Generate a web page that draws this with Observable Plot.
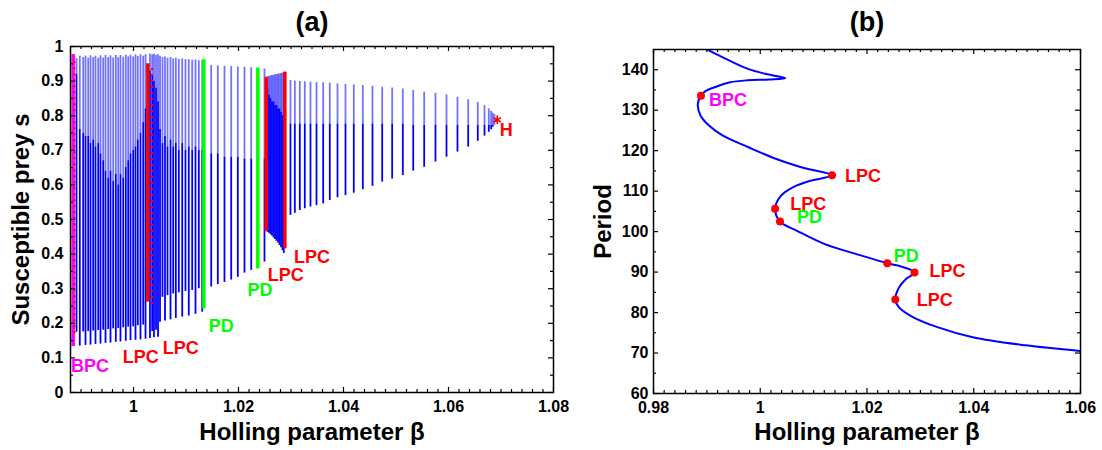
<!DOCTYPE html>
<html><head><meta charset="utf-8">
<script src="https://cdn.jsdelivr.net/npm/d3@7"></script>
<script src="https://cdn.jsdelivr.net/npm/@observablehq/plot@0.6"></script>
<style>
body{margin:0;background:#fff;}
#wrap{display:flex;width:1102px;height:450px;background:#fff;}
#wrap svg{overflow:visible;}
</style></head><body><div id="wrap"></div>
<script>
// ---------- shared ----------
const types = ["BPC", "LPC", "PD"];
const typeColors = ["#ff00ff", "#ff0000", "#00ff00"];

// ---------- panel (a): limit-cycle extrema of s vs beta ----------
const cycleBeta = [
  0.98914,0.98977,0.99042,0.99086,0.99137,0.99181,0.99232,0.99276,0.99328,0.99371,0.99423,0.99467,0.99518,0.99562,0.99613,0.99663,0.99709,0.99752,0.99804,0.99853,0.99899,0.99943,0.99994,1.00038,1.00082,1.00133,1.00185,1.00229,
  1.00314,1.00356,1.00390,1.00429,1.00467,1.00505,1.00552,1.00600,1.00648,1.00705,1.00756,1.00806,1.00863,1.00928,1.00990,1.01053,1.01118,1.01181,1.01244,1.01309,
  1.01480,1.01606,1.01733,1.01861,1.01987,1.02114,1.02242,1.02495,
  1.02552,1.02581,1.02610,1.02638,1.02667,1.02695,1.02724,1.02752,1.02781,1.02810,1.02838,1.02863,
  1.02990,1.03073,1.03168,1.03263,1.03371,1.03486,1.03613,1.03739,1.03886,1.04038,1.04196,1.04368,1.04552,1.04737,1.04927,1.05130,1.05328,1.05537,1.05752,1.05962,1.06171,1.06375,1.06558,1.06686,1.06768,1.06813,1.06844,1.06876
];
const cycleMin = [
  0.174,0.134,0.175,0.136,0.176,0.137,0.178,0.139,0.179,0.140,0.180,0.142,0.182,0.143,0.184,0.145,0.185,0.146,0.187,0.148,0.189,0.150,0.190,0.151,0.193,0.152,0.195,0.154,
  0.156,0.176,0.158,0.180,0.160,0.203,0.275,0.207,0.280,0.210,0.285,0.214,0.288,0.218,0.292,0.221,0.295,0.226,0.300,0.232,
  0.305,0.312,0.318,0.325,0.333,0.345,0.353,0.377,
  0.463,0.460,0.456,0.452,0.447,0.442,0.437,0.432,0.425,0.418,0.410,0.402,
  0.512,0.518,0.526,0.531,0.536,0.540,0.545,0.555,0.563,0.569,0.576,0.586,0.596,0.608,0.617,0.627,0.640,0.651,0.666,0.680,0.695,0.709,0.726,0.741,0.752,0.759,0.767,0.772
];
const cycleMid = [
  0.92,0.76,0.75,0.74,0.74,0.72,0.73,0.71,0.72,0.69,0.67,0.64,0.62,0.64,0.61,0.63,0.60,0.63,0.62,0.65,0.67,0.69,0.70,0.71,0.73,0.75,0.78,0.82,
  0.93,0.92,0.90,0.88,0.84,0.76,0.72,0.74,0.71,0.73,0.71,0.72,0.70,0.72,0.70,0.71,0.70,0.71,0.70,0.70,
  0.69,0.69,0.68,0.68,0.68,0.675,0.675,0.675,
  0.88,0.86,0.85,0.84,0.84,0.83,0.83,0.82,0.82,0.81,0.80,0.80,
  0.776,0.776,0.776,0.776,0.776,0.776,0.776,0.776,0.776,0.776,0.776,0.776,0.776,0.776,0.776,0.776,0.772,0.772,0.772,0.772,0.772,0.772,0.772,0.772,0.772,0.772,0.772,0.772
];
const cycleMax = [
  0.965,0.972,0.968,0.972,0.966,0.973,0.968,0.972,0.966,0.973,0.967,0.974,0.968,0.973,0.967,0.974,0.968,0.974,0.969,0.975,0.970,0.975,0.970,0.976,0.971,0.976,0.972,0.976,
  0.978,0.976,0.978,0.975,0.976,0.972,0.968,0.970,0.966,0.968,0.964,0.966,0.963,0.964,0.962,0.962,0.960,0.961,0.959,0.960,
  0.945,0.944,0.943,0.942,0.941,0.940,0.939,0.935,
  0.912,0.914,0.915,0.916,0.917,0.918,0.919,0.920,0.921,0.922,0.923,0.924,
  0.902,0.900,0.899,0.898,0.897,0.896,0.895,0.894,0.892,0.890,0.889,0.887,0.885,0.882,0.880,0.877,0.873,0.868,0.865,0.860,0.853,0.846,0.838,0.829,0.820,0.813,0.807,0.803
];

// bifurcation cycles highlighted in panel (a)
const specialBeta = [0.98851, 1.00273, 1.01340, 1.02368, 1.02527, 1.02883];
const specialMin  = [0.133, 0.261, 0.242, 0.357, 0.466, 0.415];
const specialMax  = [0.977, 0.950, 0.962, 0.938, 0.911, 0.926];
const specialType = ["BPC", "LPC", "PD", "PD", "LPC", "LPC"];

// dotted red cycles
const dottedBeta = [0.98876, 1.00356];
const dottedMin  = [0.170, 0.254];
const dottedMax  = [0.969, 0.945];

// Hopf point
const hopfBeta = 1.06928, hopfS = 0.788;

// labels panel (a)
const labelAText = ["BPC", "LPC", "LPC", "PD", "PD", "LPC", "LPC", "H"];
const labelABeta = [0.99173, 1.0014, 1.0090, 1.0167, 1.0241, 1.0290, 1.0340, 1.0710];
const labelAS    = [0.077, 0.101, 0.127, 0.192, 0.295, 0.340, 0.390, 0.757];
const labelAType = ["BPC", "LPC", "LPC", "PD", "PD", "LPC", "LPC", "LPC"];

// ticks panel (a)
const xMajorA = [1, 1.02, 1.04, 1.06, 1.08];
const yMajorA = [0, 0.1, 0.2, 0.3, 0.4, 0.5, 0.6, 0.7, 0.8, 0.9, 1];

// ---------- panel (b): period vs beta ----------
const periodBeta = [0.9895,0.9901,0.9937,0.9977,1.0016,1.0047,1.0016,0.99765,0.99435,0.99172,0.98974,0.98889,0.9883,0.9888,0.9904,0.9930,0.9977,1.0029,1.0082,1.01345,1.0095,1.0062,1.0039,1.00278,1.0037,1.0069,1.0121,1.0187,1.0238,1.0266,1.0289,1.0273,1.0260,1.0253,1.0260,1.0286,1.0332,1.0398,1.0497,1.0600];
const periodValue = [145.6,145.0,142.6,140.2,138.8,137.9,137.6,137.4,136.9,135.8,134.7,133.6,131.5,128.7,126.2,123.7,120.9,118.0,115.7,113.9,112.6,111.0,108.9,105.65,102.5,100.2,96.9,94.2,92.2,91.3,89.9,88.3,86.2,83.2,81.3,78.9,76.4,73.9,71.9,70.5];

const bifBeta   = [0.98889, 1.01345, 1.00278, 1.0037, 1.0238, 1.0289, 1.0253];
const bifPeriod = [133.6, 113.9, 105.65, 102.5, 92.2, 89.9, 83.2];
const bifType   = ["BPC", "LPC", "LPC", "PD", "PD", "LPC", "LPC"];
const bifLabelBeta   = [0.9904, 1.0159, 1.0056, 1.0069, 1.0250, 1.0317, 1.0293];
const bifLabelPeriod = [132.5, 113.8, 106.7, 103.5, 93.8, 90.1, 83.0];

const xMajorB = [0.98, 1, 1.02, 1.04, 1.06];
const yMajorB = [60, 70, 80, 90, 100, 110, 120, 130, 140];

// ---------- build ----------
const fmt = d => String(+d.toFixed(2));
const FONT = "'Liberation Sans', Arial, Helvetica, sans-serif";

const cycles = cycleBeta.map((b, i) => {
  const lo = cycleMin[i], hi = cycleMax[i];
  const mid = Math.max(lo, Math.min(cycleMid[i], hi));
  return {beta: b, min: lo, mid, max: hi};
});
const special = specialBeta.map((b, i) => ({beta: b, min: specialMin[i], max: specialMax[i], type: specialType[i]}));
const dotted = dottedBeta.map((b, i) => ({beta: b, min: dottedMin[i], max: dottedMax[i]}));
const labelsA = labelAText.map((t, i) => ({text: t, beta: labelABeta[i], s: labelAS[i], type: labelAType[i]}));
const curveB = periodBeta.map((b, i) => ({beta: b, period: periodValue[i]}));
const bifs = bifBeta.map((b, i) => ({beta: b, period: bifPeriod[i], type: bifType[i], lb: bifLabelBeta[i], lp: bifLabelPeriod[i]}));

function frameTicks(xMajor, xMinor, yMajor, yMinor, fw, fh) {
  const st = {stroke: "black", strokeWidth: 1.2};
  const L = 5, l = 3;
  return [
    Plot.ruleX(xMajor, {x: d => d, insetTop: fh - L, ...st}),
    Plot.ruleX(xMajor, {x: d => d, insetBottom: fh - L, ...st}),
    Plot.ruleX(xMinor, {x: d => d, insetTop: fh - l, ...st}),
    Plot.ruleX(xMinor, {x: d => d, insetBottom: fh - l, ...st}),
    Plot.ruleY(yMajor, {y: d => d, insetRight: fw - L, ...st}),
    Plot.ruleY(yMajor, {y: d => d, insetLeft: fw - L, ...st}),
    Plot.ruleY(yMinor, {y: d => d, insetRight: fw - l, ...st}),
    Plot.ruleY(yMinor, {y: d => d, insetLeft: fw - l, ...st})
  ];
}

const xMinorA = d3.range(0, 46).map(i => +(0.99 + i * 0.002).toFixed(3)).filter(v => !xMajorA.some(m => Math.abs(m - v) < 1e-6));
const yMinorA = d3.range(0, 10).map(i => +(0.05 + i * 0.1).toFixed(2));
const xMinorB = d3.range(0, 41).map(i => +(0.98 + i * 0.002).toFixed(3)).filter(v => !xMajorB.some(m => Math.abs(m - v) < 1e-6));
const yMinorB = d3.range(0, 8).map(i => 65 + i * 10);

const styleCommon = {fontFamily: FONT, fontSize: "16px", fontWeight: "bold", color: "black", background: "transparent", overflow: "visible"};

const plotA = Plot.plot({
  width: 560, height: 450,
  marginLeft: 70, marginRight: 7, marginTop: 46, marginBottom: 58,
  x: {domain: [0.988, 1.08]},
  y: {domain: [0, 1]},
  color: {domain: types, range: typeColors},
  style: styleCommon,
  marks: [
    Plot.ruleX(cycles, {x: "beta", y1: "min", y2: "mid", stroke: "#0000ff", strokeWidth: 1.8}),
    Plot.ruleX(cycles, {x: "beta", y1: "mid", y2: "max", stroke: "#0000ff", strokeOpacity: 0.55, strokeWidth: 1.8}),
    Plot.ruleX(special, {x: "beta", y1: "min", y2: "max", stroke: "type", strokeWidth: 3.5}),
    Plot.ruleX(dotted, {x: "beta", y1: "min", y2: "max", stroke: "#ff0000", strokeWidth: 2, strokeDasharray: "2,4"}),
    Plot.dot([{beta: hopfBeta, s: hopfS}], {x: "beta", y: "s", symbol: "asterisk", r: 4, stroke: "#ff0000", strokeWidth: 1.6}),
    Plot.text(labelsA, {x: "beta", y: "s", text: "text", fill: "type", fontSize: 18, fontWeight: "bold"}),
    ...frameTicks(xMajorA, xMinorA, yMajorA, yMinorA, 483, 346),
    Plot.axisX({ticks: xMajorA, tickSize: 0, tickPadding: 8, tickFormat: fmt, label: null}),
    Plot.axisY({ticks: yMajorA, tickSize: 0, tickPadding: 7, tickFormat: fmt, label: null}),
    Plot.frame({stroke: "black", strokeWidth: 1.5}),
    Plot.text(["(a)"], {text: d => d, frameAnchor: "top", dy: -24, lineAnchor: "middle", fontSize: 27, fontWeight: "bold"}),
    Plot.text(["Holling parameter β"], {text: d => d, frameAnchor: "bottom", dy: 40, lineAnchor: "middle", fontSize: 24, fontWeight: "bold"}),
    Plot.text(["Susceptible prey s"], {text: d => d, frameAnchor: "middle", dx: -291, rotate: -90, lineAnchor: "middle", fontSize: 24, fontWeight: "bold"})
  ]
});

const plotB = Plot.plot({
  width: 542, height: 450,
  marginLeft: 93, marginRight: 22, marginTop: 49, marginBottom: 57,
  x: {domain: [0.98, 1.06]},
  y: {domain: [60, 145]},
  color: {domain: types, range: typeColors},
  style: styleCommon,
  marks: [
    Plot.line(curveB, {x: "beta", y: "period", stroke: "#0000ff", strokeWidth: 2, curve: "catmull-rom", clip: true}),
    Plot.dot(bifs, {x: "beta", y: "period", r: 4, fill: "#ff0000"}),
    Plot.text(bifs, {x: "lb", y: "lp", text: "type", fill: "type", textAnchor: "start", fontSize: 18, fontWeight: "bold"}),
    ...frameTicks(xMajorB, xMinorB, yMajorB, yMinorB, 427, 344),
    Plot.axisX({ticks: xMajorB, tickSize: 0, tickPadding: 8, tickFormat: fmt, label: null}),
    Plot.axisY({ticks: yMajorB, tickSize: 0, tickPadding: 5, tickFormat: fmt, label: null}),
    Plot.frame({stroke: "black", strokeWidth: 1.5}),
    Plot.text(["(b)"], {text: d => d, frameAnchor: "top", dy: -27, lineAnchor: "middle", fontSize: 27, fontWeight: "bold"}),
    Plot.text(["Holling parameter β"], {text: d => d, frameAnchor: "bottom", dy: 39, lineAnchor: "middle", fontSize: 24, fontWeight: "bold"}),
    Plot.text(["Period"], {text: d => d, frameAnchor: "middle", dx: -264, rotate: -90, lineAnchor: "middle", fontSize: 24, fontWeight: "bold"})
  ]
});

const wrap = document.getElementById("wrap");
plotA.style.position = "relative";
plotA.style.zIndex = "2";
plotB.style.position = "relative";
plotB.style.zIndex = "1";
wrap.appendChild(plotA);
wrap.appendChild(plotB);
</script></body></html>
